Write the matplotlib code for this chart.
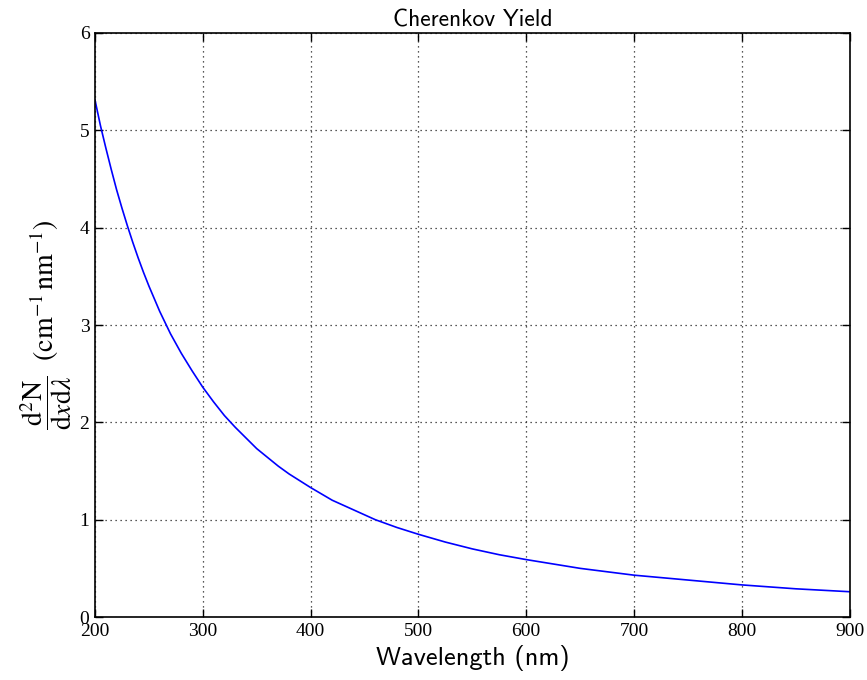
import matplotlib
matplotlib.use('Agg')
import matplotlib.pyplot as plt

plt.rcParams['mathtext.fontset'] = 'stix'

# wavelength (nm) and yield
wavelength = [200, 205, 210, 215, 220, 225, 230, 235, 240, 245, 250, 260, 270,
              280, 290, 300, 310, 320, 330, 340, 350, 360, 370, 380, 390, 400,
              420, 440, 460, 480, 500, 525, 550, 575, 600, 650, 700, 750,
              800, 850, 900]
yield_vals = [5.31, 5.05, 4.82, 4.60, 4.39, 4.20, 4.02, 3.85, 3.69, 3.54, 3.40,
              3.14, 2.91, 2.71, 2.53, 2.36, 2.21, 2.07, 1.95, 1.84, 1.73, 1.64,
              1.55, 1.47, 1.40, 1.33, 1.20, 1.10, 1.00, 0.92, 0.85, 0.77, 0.70,
              0.64, 0.59, 0.50, 0.43, 0.38, 0.33, 0.29, 0.26]

xticks = [200, 300, 400, 500, 600, 700, 800, 900]
yticks = [0, 1, 2, 3, 4, 5, 6]

fig = plt.figure(figsize=(8.67, 6.8), dpi=100)
ax = fig.add_axes([0.1096, 0.0926, 0.8704, 0.8589])

ax.plot(wavelength, yield_vals, color='blue', lw=1.2)

ax.set_xlim(200, 900)
ax.set_ylim(0, 6)
ax.set_xticks(xticks)
ax.set_yticks(yticks)
ax.set_xticklabels([str(t) for t in xticks], fontfamily='Liberation Serif', fontsize=14)
ax.set_yticklabels([str(t) for t in yticks], fontfamily='Liberation Serif', fontsize=14)
ax.tick_params(direction='in', top=True, right=True, length=6, width=1, pad=4)

ax.grid(True, color='#222222', linestyle=(0, (1, 3)), linewidth=0.9)
for s in ax.spines.values():
    s.set_linewidth(1.2)

ax.set_title('Cherenkov Yield', fontfamily='cmss10', fontsize=17, pad=5)
ax.set_xlabel('Wavelength (nm)', fontfamily='cmss10', fontsize=19, labelpad=4)
ax.set_ylabel(r'$\dfrac{\mathrm{d}^2\mathrm{N}}{\mathrm{d}x\mathrm{d}\lambda}\ \ (\mathrm{cm}^{-1}\,\mathrm{nm}^{-1})$',
              fontsize=20, labelpad=4)

fig.savefig('out.png', dpi=100)
